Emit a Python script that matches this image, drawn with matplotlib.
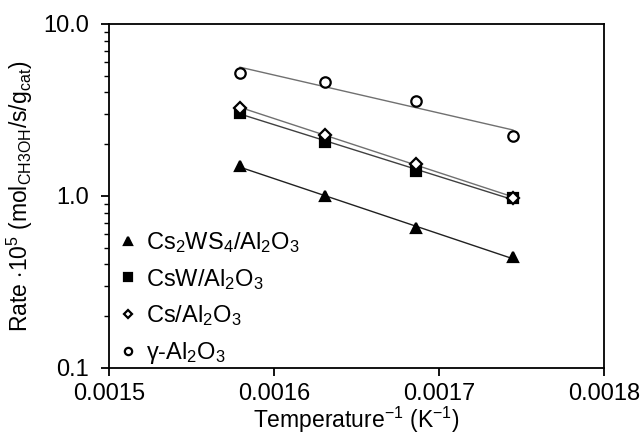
import numpy as np
import matplotlib.pyplot as plt
from matplotlib.ticker import FixedLocator, LogLocator, NullFormatter, FixedFormatter

plt.rcParams['font.family'] = ['Liberation Sans', 'DejaVu Sans']
plt.rcParams['mathtext.fontset'] = 'custom'
plt.rcParams['mathtext.rm'] = 'Liberation Sans'
plt.rcParams['mathtext.it'] = 'Liberation Sans'

inv_T = [0.0015794, 0.0016309, 0.0016859, 0.0017448]

rate_cs2ws4 = [1.49, 1.00, 0.65, 0.44]
rate_csw = [3.05, 2.07, 1.40, 0.97]
rate_cs = [3.25, 2.27, 1.53, 0.98]
rate_al2o3 = [5.20, 4.60, 3.57, 2.24]

series = [
    (rate_cs2ws4, '^', 'black', '#202020', r'Cs$_2$WS$_4$/Al$_2$O$_3$'),
    (rate_csw, 's', 'black', '#404040', r'CsW/Al$_2$O$_3$'),
    (rate_cs, 'D', 'white', '#707070', r'Cs/Al$_2$O$_3$'),
    (rate_al2o3, 'o', 'white', '#707070', r'γ-Al$_2$O$_3$'),
]

fig = plt.figure(figsize=(6.43, 4.37), dpi=100)
ax = fig.add_axes([109 / 643, 1 - 368 / 437, 495 / 643, 344 / 437])

x = np.array(inv_T)
xfit = np.array([x[0], x[-1]])
for vals, mk, fc, lc, lab in series:
    # exponential trendline (linear fit on log scale)
    k, b = np.polyfit(x, np.log(vals), 1)
    ax.plot(xfit, np.exp(k * xfit + b), color=lc, lw=1.0, zorder=2)
    ms = 7.5 if mk != 'D' else 6
    ax.plot(x, vals, linestyle='none', marker=mk, ms=ms, mfc=fc, mec='black',
            mew=1.6, label=lab, zorder=3)

ax.set_yscale('log')
ax.set_ylim(0.1, 10)
ax.set_xlim(0.0015, 0.0018)
ax.xaxis.set_major_locator(FixedLocator([0.0015, 0.0016, 0.0017, 0.0018]))
ax.xaxis.set_major_formatter(FixedFormatter(['0.0015', '0.0016', '0.0017', '0.0018']))
ax.yaxis.set_major_locator(FixedLocator([0.1, 1, 10]))
ax.yaxis.set_major_formatter(FixedFormatter(['0.1', '1.0', '10.0']))
ax.yaxis.set_minor_locator(LogLocator(base=10, subs=np.arange(2, 10)))
ax.yaxis.set_minor_formatter(NullFormatter())

ax.tick_params(axis='both', which='major', direction='out', length=5.5, width=1.3,
               labelsize=17, colors='black')
ax.tick_params(axis='y', which='major', pad=9)
ax.tick_params(axis='x', which='major', pad=5)
ax.tick_params(axis='y', which='minor', direction='out', length=3.5, width=1.0)
for s in ax.spines.values():
    s.set_linewidth(1.3)

ax.set_xlabel(r'Temperature$^{-1}$ (K$^{-1}$)', fontsize=16.5, labelpad=0)
ax.set_ylabel(r'Rate $\cdot$10$^5$ (mol$_{\mathrm{CH3OH}}$/s/g$_{\mathrm{cat}}$)',
              fontsize=16.5, labelpad=6)

ax.legend(loc='lower left', frameon=False, fontsize=17, handletextpad=0.0,
          labelspacing=0.5, borderaxespad=0.15, markerscale=0.7,
          handlelength=1.5, bbox_to_anchor=(-0.024, -0.032))

fig.savefig('out.png', dpi=100)
